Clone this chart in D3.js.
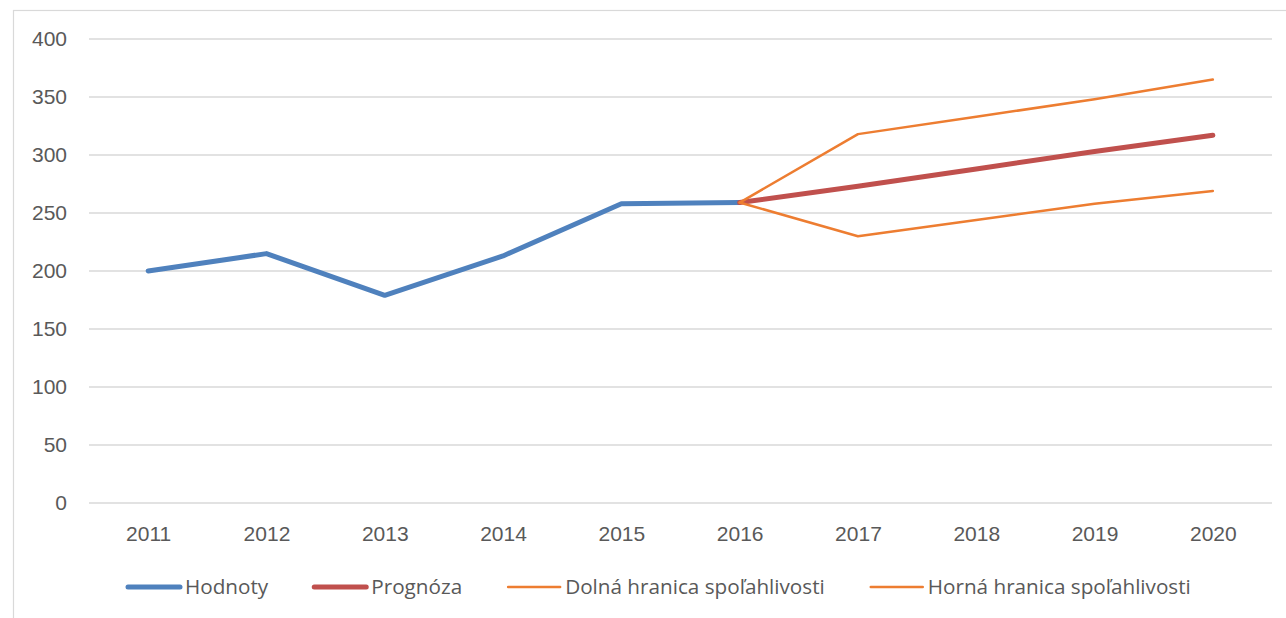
<!DOCTYPE html>
<html>
<head>
<meta charset="utf-8">
<script src="https://cdn.jsdelivr.net/npm/d3@7"></script>
<style>
  html, body { margin: 0; padding: 0; background: #fff; }
  svg { display: block; font-family: "Open Sans", "Noto Sans", sans-serif; }
</style>
</head>
<body>
<div id="chart"></div>
<script>
const width = 1286;
const height = 618;

const years = ["2011", "2012", "2013", "2014", "2015", "2016", "2017", "2018", "2019", "2020"];
const hodnoty = [200, 215, 179, 213, 258, 259, null, null, null, null];
const prognoza = [null, null, null, null, null, 259, 273, 288, 303, 317];
const dolna = [null, null, null, null, null, 259, 230, 244, 258, 269];
const horna = [null, null, null, null, null, 259, 318, 333, 348, 365];
const yTicks = [0, 50, 100, 150, 200, 250, 300, 350, 400];

const series = [
  { label: "Hodnoty", values: hodnoty, color: "#4f81bd", width: 5 },
  { label: "Prognóza", values: prognoza, color: "#c0504d", width: 5 },
  { label: "Dolná hranica spoľahlivosti", values: dolna, color: "#ed7d31", width: 2.5 },
  { label: "Horná hranica spoľahlivosti", values: horna, color: "#ed7d31", width: 2.5 },
];

const plot = { left: 89, right: 1272, top: 39, bottom: 503 };
const fontSize = 21;

const svg = d3.select("#chart")
  .append("svg")
  .attr("width", width)
  .attr("height", height);

// chart area border (only top/left fall inside the picture)
svg.append("rect")
  .attr("x", 13.5)
  .attr("y", 10.5)
  .attr("width", width)
  .attr("height", height)
  .attr("fill", "none")
  .attr("stroke", "#d9d9d9")
  .attr("stroke-width", 1.2);

const x = d3.scalePoint()
  .domain(years)
  .range([plot.left, plot.right])
  .padding(0.5);

const y = d3.scaleLinear()
  .domain([0, 400])
  .range([plot.bottom, plot.top]);

// gridlines
svg.append("g")
  .selectAll("line")
  .data(yTicks)
  .join("line")
  .attr("x1", plot.left)
  .attr("x2", plot.right)
  .attr("y1", (d) => y(d))
  .attr("y2", (d) => y(d))
  .attr("stroke", "#d9d9d9")
  .attr("stroke-width", 1.5);

// y axis labels
const yAxis = svg.append("g")
  .attr("transform", `translate(${plot.left - 16},0)`)
  .call(d3.axisLeft(y).tickValues(yTicks).tickSize(0).tickPadding(6));
yAxis.select(".domain").remove();
yAxis.selectAll("text")
  .attr("font-size", fontSize)
  .attr("fill", "#595959")
  .attr("font-family", null);

// x axis labels
const xAxis = svg.append("g")
  .attr("transform", `translate(0,${plot.bottom + 23})`)
  .call(d3.axisBottom(x).tickSize(0).tickPadding(0));
xAxis.select(".domain").remove();
xAxis.selectAll("text")
  .attr("font-size", fontSize)
  .attr("fill", "#595959")
  .attr("font-family", null);

const line = d3.line()
  .defined((d) => d != null)
  .x((d, i) => x(years[i]))
  .y((d) => y(d));

series.forEach((s) => {
  svg.append("path")
    .datum(s.values)
    .attr("fill", "none")
    .attr("stroke", s.color)
    .attr("stroke-width", s.width)
    .attr("stroke-linejoin", "round")
    .attr("stroke-linecap", "round")
    .attr("d", line);
});

// legend
const legend = svg.append("g").attr("transform", "translate(0,587)");
let lx = 126;
series.forEach((s) => {
  const g = legend.append("g").attr("transform", `translate(${lx},0)`);
  g.append("line")
    .attr("x1", 2)
    .attr("x2", 54)
    .attr("stroke", s.color)
    .attr("stroke-width", s.width)
    .attr("stroke-linecap", "round");
  const t = g.append("text")
    .attr("x", 59)
    .attr("dy", "0.35em")
    .attr("font-size", fontSize - 0.3)
    .attr("fill", "#595959")
    .text(s.label);
  lx += 59 + t.node().getComputedTextLength() + 44;
});
</script>
</body>
</html>
